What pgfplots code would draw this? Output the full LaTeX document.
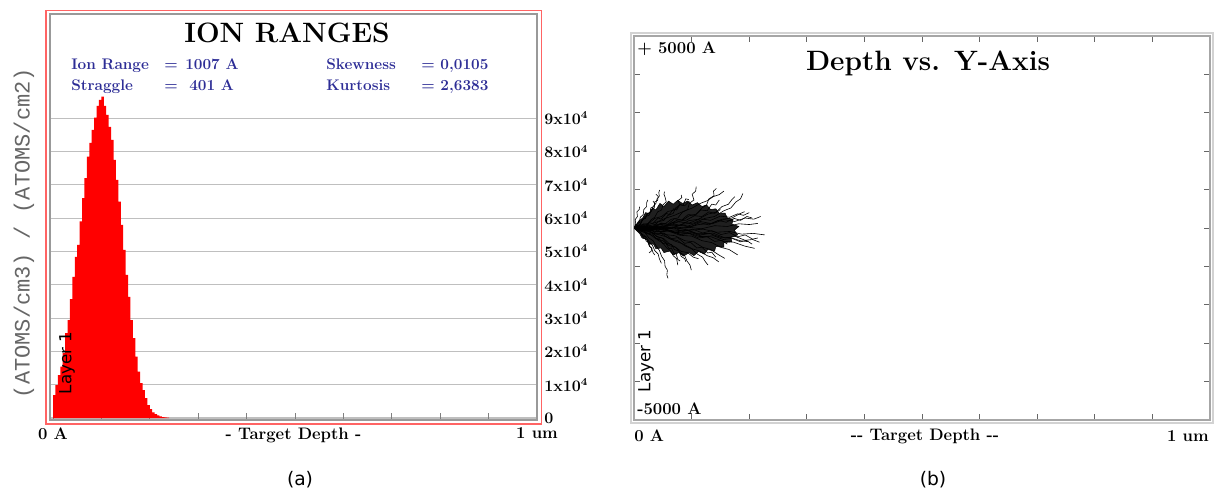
\documentclass[border=0pt]{standalone}
\usepackage{fontspec}
\usepackage{pgfplots}
\pgfplotsset{compat=1.18}
\newfontfamily\monof{Liberation Mono}
\newfontfamily\sansf{DejaVu Sans}
\definecolor{statblue}{RGB}{45,45,150}
\definecolor{framered}{RGB}{255,100,100}
\definecolor{barred}{RGB}{255,0,0}

\begin{document}
\begin{tikzpicture}[x=0.75pt,y=0.75pt]
\useasboundingbox (0,0) rectangle (1217,494);

% ---------------- (a) ion ranges ----------------
\begin{axis}[
    name=A,
    at={(37.5pt,55.5pt)}, anchor=south west,
    scale only axis,
    width=365.25pt, height=304.5pt,
    xmin=-62, xmax=10000,
    ymin=-0.06, ymax=12.13,
    scaled x ticks=false, scaled y ticks=false,
    axis line style={gray!80, line width=0.8pt},
    tick align=inside,
    xtick pos=bottom,
    xtick={0,1000,...,10000},
    xticklabels={0 A,,,,,,,,,,1 um},
    xtick style={gray, line width=0.5pt},
    major tick length=5pt,
    xticklabel style={yshift=-2.5pt, font=\fontsize{12.5}{14}\selectfont\bfseries},
    xlabel={- Target Depth -},
    xlabel style={at={(axis description cs:0.5,0)}, anchor=north, inner sep=0.333em,
                  yshift=-2.5pt, font=\fontsize{12.5}{14}\selectfont\bfseries},
    ytick={0,1,...,9},
    yticklabels={0,1x10\textsuperscript{4},2x10\textsuperscript{4},3x10\textsuperscript{4},
                 4x10\textsuperscript{4},5x10\textsuperscript{4},6x10\textsuperscript{4},
                 7x10\textsuperscript{4},8x10\textsuperscript{4},9x10\textsuperscript{4}},
    ytick pos=right,
    yticklabel pos=right,
    ytick style={draw=none},
    yticklabel style={anchor=west, xshift=2pt, font=\fontsize{12}{13}\selectfont\bfseries},
    ymajorgrids,
    grid style={gray!50, line width=0.8pt},
]
\addplot[const plot, fill=barred, draw=none] coordinates {
    (0,0.69) (50,0.99) (100,1.29) (150,1.54) (200,1.95) (250,2.55) (300,2.94)
    (350,3.57) (400,4.24) (450,4.84) (500,5.2) (550,5.9) (600,6.6) (650,7.2)
    (700,7.85) (750,8.26) (800,8.65) (850,9.02) (900,9.37) (950,9.55) (1000,9.65)
    (1050,9.37) (1100,9.1) (1150,8.74) (1200,8.35) (1250,7.75) (1300,7.15)
    (1350,6.5) (1400,5.8) (1450,5.05) (1500,4.3) (1550,3.64) (1600,2.94)
    (1650,2.4) (1700,1.84) (1750,1.39) (1800,1.05) (1850,0.84) (1900,0.6)
    (1950,0.39) (2000,0.27) (2050,0.17) (2100,0.12) (2150,0.08) (2200,0.05)
    (2250,0.03) (2300,0.02) (2350,0.01) (2400,0)
} \closedcycle;
\end{axis}

\draw[framered, line width=1pt] (46,70) rectangle (541.5,483.5);

\node[font=\fontsize{21}{24}\selectfont\bfseries] at (287,461) {ION RANGES};
\begin{scope}[every node/.style={font=\fontsize{11.5}{13}\selectfont\bfseries,
    text=statblue, anchor=base west, inner sep=0pt}]
\node at (71,425) {Ion Range};  \node at (164,425) {=}; \node at (185,425) {1007 A};
\node at (71,404) {Straggle};   \node at (164,404) {=}; \node at (189,404) {401 A};
\node at (326,425) {Skewness};  \node at (421,425) {= 0,0105};
\node at (326,404) {Kurtosis};  \node at (421,404) {= 2,6383};
\end{scope}
\node[rotate=90, font=\monof\fontsize{16.5}{18}\selectfont, text=black!60] at (24,261)
    {(ATOMS/cm3) / (ATOMS/cm2)};
\node[rotate=90, font=\sansf\fontsize{12.5}{14}\selectfont] at (67,131) {Layer 1};
\node[font=\sansf\fontsize{14}{16}\selectfont] at (300,14) {(a)};

% ---------------- (b) depth vs y ----------------
\begin{axis}[
    name=B,
    at={(475.5pt,55.5pt)}, anchor=south west,
    scale only axis,
    width=432pt, height=288pt,
    xmin=0, xmax=10000,
    ymin=-5000, ymax=5000,
    scaled x ticks=false, scaled y ticks=false,
    axis line style={gray!70, line width=0.8pt},
    tick align=inside,
    xtick={0,1000,...,9000},
    ytick={-4000,-3000,...,4000},
    xticklabels={}, yticklabels={},
    tick style={black!60, line width=0.5pt},
    major tick length=4.5pt,
    traj/.style={black, line width=0.45pt, mark=none},
]
% dense core of the trajectories
\addplot[fill=black!88, draw=black, line width=0.4pt] coordinates {
    (0,0)(80,180)(150,260)(200,400)(260,380)(320,520)(380,470)(450,640)(520,560)
    (600,700)(680,620)(760,720)(840,640)(930,700)(1010,600)(1100,660)(1180,560)
    (1260,600)(1330,480)(1420,500)(1480,380)(1580,390)(1620,260)(1720,220)(1700,100)
    (1820,40)(1740,-60)(1800,-180)(1680,-240)(1700,-360)(1560,-380)(1560,-500)
    (1420,-480)(1400,-600)(1280,-560)(1220,-680)(1120,-610)(1040,-720)(960,-640)
    (860,-730)(780,-640)(680,-700)(620,-600)(520,-640)(470,-520)(380,-540)(340,-420)
    (260,-420)(220,-300)(140,-260)(100,-150)(0,0)
};
\addplot[traj] coordinates {(0,0)(50,60)(110,90)(150,210)(200,260)(240,380)(300,430)(330,560)(380,640)(400,760)(440,830)(430,920)(445,990)};
\addplot[traj] coordinates {(0,0)(90,30)(170,110)(230,90)(300,220)(360,280)(410,420)(480,470)(500,600)(560,680)(540,800)(520,880)(530,945)};
\addplot[traj] coordinates {(0,0)(120,-20)(230,60)(330,40)(420,160)(520,200)(590,330)(680,380)(720,520)(790,600)(770,720)(830,790)(820,860)};
\addplot[traj] coordinates {(0,0)(150,20)(280,-30)(400,70)(540,110)(650,230)(760,260)(840,410)(930,480)(960,640)(1040,730)(1010,880)(1070,960)(1080,1075)};
\addplot[traj] coordinates {(0,0)(180,-10)(350,50)(500,20)(670,140)(820,180)(960,320)(1080,360)(1180,520)(1260,600)(1300,760)(1390,840)(1380,960)(1430,1030)};
\addplot[traj] coordinates {(0,0)(200,30)(400,-20)(590,80)(780,60)(950,190)(1120,230)(1280,360)(1420,410)(1530,560)(1640,620)(1700,740)(1750,815)};
\addplot[traj] coordinates {(0,0)(210,-30)(430,20)(640,-10)(850,100)(1040,130)(1230,250)(1400,300)(1560,450)(1680,520)(1770,680)(1850,760)(1890,900)};
\addplot[traj] coordinates {(0,0)(220,10)(450,-40)(680,30)(900,0)(1120,90)(1340,120)(1530,230)(1700,260)(1820,360)(1920,425)};
\addplot[traj] coordinates {(0,0)(230,-10)(470,40)(700,-30)(940,20)(1170,-20)(1400,60)(1620,40)(1820,110)(2000,90)(2150,120)};
\addplot[traj] coordinates {(0,0)(240,20)(480,-30)(720,10)(960,-60)(1200,-30)(1430,-110)(1660,-90)(1870,-160)(2070,-140)(2270,-180)};
\addplot[traj] coordinates {(0,0)(220,-30)(450,10)(670,-80)(890,-50)(1100,-150)(1310,-140)(1500,-240)(1680,-250)(1840,-330)(1980,-355)};
\addplot[traj] coordinates {(0,0)(230,-50)(460,-20)(690,-120)(910,-110)(1130,-220)(1340,-230)(1540,-340)(1730,-370)(1920,-470)(2095,-530)};
\addplot[traj] coordinates {(0,0)(200,-20)(400,-90)(600,-80)(800,-190)(1000,-210)(1180,-330)(1350,-380)(1500,-500)(1650,-560)(1800,-700)};
\addplot[traj] coordinates {(0,0)(180,-60)(360,-40)(540,-170)(710,-200)(880,-330)(1040,-360)(1190,-500)(1330,-560)(1460,-690)(1575,-790)};
\addplot[traj] coordinates {(0,0)(160,-40)(320,-130)(470,-140)(620,-280)(760,-330)(890,-470)(1000,-540)(1100,-680)(1190,-760)(1240,-880)(1285,-965)};
\addplot[traj] coordinates {(0,0)(140,-70)(280,-80)(400,-220)(520,-280)(620,-420)(720,-500)(800,-640)(880,-720)(920,-860)(970,-960)(995,-1095)};
\addplot[traj] coordinates {(0,0)(120,-30)(230,-150)(330,-190)(420,-320)(500,-390)(570,-520)(640,-600)(680,-720)(740,-800)(760,-965)};
\addplot[traj] coordinates {(0,0)(100,-60)(190,-120)(260,-260)(330,-330)(390,-480)(440,-580)(480,-740)(530,-850)(540,-1000)(580,-1100)(570,-1220)(590,-1310)};
\addplot[traj] coordinates {(0,0)(80,-70)(150,-170)(210,-230)(270,-370)(320,-450)(360,-590)(420,-680)(440,-800)(475,-920)};
\addplot[traj] coordinates {(0,0)(60,-80)(120,-130)(170,-260)(230,-320)(260,-450)(310,-540)(330,-640)(360,-700)};
\addplot[traj] coordinates {(0,0)(40,90)(90,150)(110,280)(160,350)(170,480)(220,560)(220,660)(240,730)};
\addplot[traj] coordinates {(0,0)(30,110)(20,220)(60,300)(50,420)(90,480)(98,555)};
\addplot[traj] coordinates {(0,0)(150,60)(300,10)(460,120)(600,90)(760,210)(900,200)(1050,320)(1180,300)(1300,420)(1400,380)(1500,480)};
\addplot[traj] coordinates {(0,0)(160,-50)(320,10)(480,-100)(640,-60)(800,-170)(960,-140)(1120,-260)(1270,-230)(1400,-350)(1520,-320)(1620,-420)};
\addplot[traj] coordinates {(0,0)(120,80)(250,120)(360,250)(480,300)(590,430)(700,470)(800,600)(880,580)(960,700)};
\addplot[traj] coordinates {(0,0)(130,-90)(260,-150)(380,-280)(500,-330)(610,-460)(720,-500)(820,-610)(930,-640)(1030,-760)(1120,-800)};
\addplot[traj] coordinates {(0,0)(200,40)(390,100)(580,60)(770,160)(960,130)(1150,240)(1330,200)(1500,310)(1660,280)(1800,370)(1900,330)(2000,400)};
\addplot[traj] coordinates {(0,0)(200,-40)(400,-100)(600,-60)(800,-160)(1000,-120)(1200,-230)(1380,-200)(1550,-300)(1700,-270)(1850,-360)(1950,-320)(2050,-420)};
\addplot[traj] coordinates {(0,0)(70,120)(130,170)(190,300)(260,330)(300,460)(350,520)(360,640)(330,700)};
\addplot[traj] coordinates {(0,0)(110,-20)(210,-110)(300,-100)(400,-230)(490,-260)(560,-390)(650,-430)(700,-560)(780,-600)(820,-740)(880,-800)(900,-880)};
\addplot[traj] coordinates {(0,0)(100,50)(180,10)(260,140)(330,120)(420,260)(470,230)(560,380)(610,350)(690,500)(740,470)(800,620)(850,590)(900,760)(950,740)};
\addplot[traj] coordinates {(0,0)(130,-30)(240,50)(360,0)(470,130)(590,100)(700,240)(830,210)(940,350)(1060,330)(1160,470)(1270,450)(1350,620)(1420,600)(1480,730)};
\addplot[traj] coordinates {(0,0)(160,30)(330,-40)(490,60)(650,-10)(820,90)(980,30)(1140,140)(1300,80)(1460,200)(1600,150)(1740,250)(1850,200)(1960,300)(2050,260)};
\addplot[traj] coordinates {(0,0)(170,-40)(340,30)(510,-60)(680,10)(850,-90)(1020,-30)(1190,-130)(1350,-70)(1510,-170)(1660,-120)(1800,-230)(1930,-180)(2060,-290)(2150,-260)};
\addplot[traj] coordinates {(0,0)(140,-60)(270,-20)(400,-160)(520,-130)(650,-280)(760,-250)(880,-400)(980,-370)(1090,-520)(1180,-500)(1280,-650)(1350,-630)(1420,-760)};
\addplot[traj] coordinates {(0,0)(90,-50)(170,-20)(240,-150)(310,-130)(380,-280)(430,-260)(500,-410)(550,-390)(610,-540)(650,-520)(700,-680)(730,-660)(760,-820)(800,-860)};
\addplot[traj] coordinates {(0,0)(60,-40)(110,-100)(140,-200)(190,-230)(210,-340)(260,-380)(270,-480)(310,-520)(300,-600)(260,-650)};
\addplot[traj] coordinates {(0,0)(70,60)(120,130)(140,230)(200,250)(220,360)(280,400)(290,520)(350,560)(360,680)(410,720)(420,820)(380,880)};
\addplot[traj] coordinates {(0,0)(190,70)(370,140)(540,250)(700,330)(870,440)(1010,520)(1150,640)(1270,710)(1380,820)(1480,870)(1560,960)};
\addplot[traj] coordinates {(0,0)(190,-60)(370,-150)(540,-220)(710,-340)(860,-420)(1010,-540)(1140,-600)(1270,-720)(1370,-770)(1470,-880)};
\addplot[traj] coordinates {(0,0)(240,60)(470,-10)(700,100)(920,40)(1150,170)(1360,110)(1560,220)(1750,170)(1930,260)(2080,230)(2200,300)};
\addplot[traj] coordinates {(0,0)(240,-70)(470,0)(700,-110)(930,-50)(1150,-180)(1370,-130)(1580,-260)(1760,-220)(1930,-320)(2060,-300)(2180,-370)};
\end{axis}

\draw[gray!35, line width=0.8pt] (631,71) rectangle (1213,461);

\node[font=\fontsize{21}{24}\selectfont\bfseries] at (928,431) {Depth vs. Y-Axis};
\node[anchor=west, inner sep=0pt, font=\fontsize{12.5}{14}\selectfont\bfseries] at (637,445) {+ 5000 A};
\node[anchor=west, inner sep=0pt, font=\fontsize{12.5}{14}\selectfont\bfseries] at (637,85) {-5000 A};
\node[anchor=west, inner sep=0pt, font=\fontsize{12.5}{14}\selectfont\bfseries] at (634,58) {0 A};
\node[font=\fontsize{12.5}{14}\selectfont\bfseries] at (925,58) {-{}- Target Depth -{}-};
\node[anchor=east, inner sep=0pt, font=\fontsize{12.5}{14}\selectfont\bfseries] at (1209,58) {1 um};
\node[rotate=90, font=\sansf\fontsize{12.5}{14}\selectfont] at (646,133) {Layer 1};
\node[font=\sansf\fontsize{14}{16}\selectfont] at (933,14) {(b)};
\end{tikzpicture}
\end{document}
